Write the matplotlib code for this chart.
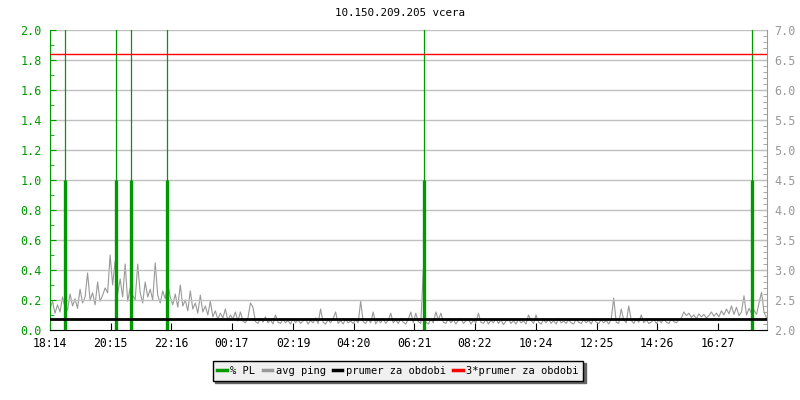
import matplotlib
matplotlib.use("Agg")
import matplotlib.pyplot as plt
from matplotlib.ticker import MultipleLocator
from matplotlib.lines import Line2D
import numpy as np

title = "10.150.209.205 vcera"
tick_labels = ["18:14", "20:15", "22:16", "00:17", "02:19", "04:20",
               "06:21", "08:22", "10:24", "12:25", "14:26", "16:27"]
tick_minutes = [0, 121, 242, 363, 485, 606, 727, 848, 970, 1091, 1212, 1333]
x_end = 1431

# avg ping samples, every 5 minutes from the start (right axis units)
ping = [
    2.35, 2.48, 2.28, 2.42, 2.30, 2.55, 2.38, 2.33, 2.60, 2.40, 2.52, 2.36,
    2.68, 2.45, 2.55, 2.95, 2.50, 2.62, 2.42, 2.80, 2.48, 2.58, 2.70, 2.62,
    3.25, 2.75, 3.15, 2.60, 2.85, 2.55, 3.10, 2.48, 2.70, 2.58, 2.50, 3.10,
    2.62, 2.45, 2.80, 2.55, 2.68, 2.50, 3.12, 2.58, 2.45, 2.65, 2.52, 2.78,
    2.55, 2.42, 2.60, 2.38, 2.75, 2.40, 2.50, 2.32, 2.65, 2.35, 2.45, 2.28,
    2.58, 2.30, 2.40, 2.25, 2.48, 2.22, 2.32, 2.18, 2.28, 2.20, 2.35, 2.16,
    2.25, 2.18, 2.30, 2.15,
    2.30, 2.15, 2.12, 2.20, 2.45, 2.38, 2.14, 2.11, 2.19, 2.13, 2.22, 2.12,
    2.17, 2.10, 2.25, 2.13, 2.11, 2.18, 2.12, 2.16, 2.10, 2.19, 2.12, 2.17,
    2.11, 2.15, 2.18, 2.10, 2.16, 2.12, 2.20, 2.11, 2.35, 2.13, 2.10, 2.17,
    2.12, 2.19, 2.30, 2.11, 2.16, 2.10, 2.18, 2.12, 2.15, 2.11, 2.17, 2.12,
    2.48, 2.14, 2.11, 2.18, 2.12, 2.30, 2.10, 2.17, 2.12, 2.19, 2.11, 2.16,
    2.28, 2.12, 2.17, 2.11, 2.19, 2.13, 2.10, 2.18, 2.30, 2.12, 2.28, 2.14,
    2.11, 3.00, 2.13, 2.10, 2.18, 2.12, 2.30, 2.17, 2.28, 2.13, 2.11, 2.19,
    2.12, 2.17, 2.10, 2.16, 2.19, 2.11, 2.15, 2.18, 2.10, 2.16, 2.12, 2.28,
    2.13, 2.11, 2.18, 2.10, 2.16, 2.12, 2.19, 2.11, 2.17, 2.09, 2.15, 2.18,
    2.11, 2.16, 2.10, 2.18, 2.12, 2.15, 2.10, 2.25, 2.16, 2.11, 2.25, 2.13,
    2.10, 2.17, 2.12, 2.18, 2.11, 2.16, 2.10, 2.19, 2.12, 2.15, 2.11, 2.17,
    2.12, 2.10, 2.18, 2.13, 2.11, 2.17, 2.12, 2.16, 2.10, 2.19, 2.13, 2.11,
    2.17, 2.12, 2.16, 2.10, 2.18, 2.53, 2.13, 2.11, 2.35, 2.17, 2.12, 2.40,
    2.16, 2.11, 2.18, 2.13, 2.25, 2.12, 2.17, 2.11,
    2.13, 2.18, 2.11, 2.17, 2.12, 2.19, 2.13, 2.11, 2.18, 2.14, 2.12, 2.17,
    2.20, 2.30, 2.24, 2.28, 2.21, 2.25, 2.19, 2.27, 2.22, 2.26, 2.20, 2.24,
    2.30, 2.23, 2.28, 2.22, 2.32, 2.25, 2.35, 2.27, 2.40, 2.26, 2.38, 2.24,
    2.30, 2.57, 2.25, 2.36, 2.28, 2.33, 2.26, 2.45, 2.63, 2.30, 2.20, 2.16,
]
ping_step = 5

pl_minutes = [30, 132, 161, 233, 747, 1400]
pl_values = [1.0, 1.0, 1.0, 1.0, 1.0, 1.0]

prumer = 0.073          # left axis units
prumer3 = 1.84

GREEN = "#009900"
GREY = "#999999"
GRID = "#C0C0C0"

plt.rcParams["font.family"] = ["DejaVu Sans Mono"]
fig = plt.figure(figsize=(8, 4), dpi=100)
ax = fig.add_axes([0.0625, 0.175, 0.8963, 0.75])
ax2 = ax.twinx()

ax.set_xlim(0, x_end)
ax.set_ylim(0, 2.0)
ax2.set_ylim(2.0, 7.0)

for v in np.arange(0.2, 2.01, 0.2):
    ax.axhline(v, color=GRID, lw=1.0, zorder=0)

t = np.arange(len(ping)) * ping_step
ax2.plot(t, ping, color=GREY, lw=0.8, zorder=2)

for m, v in zip(pl_minutes, pl_values):
    ax.plot([m, m], [0, 2.0], color=GREEN, lw=0.9, zorder=3)
    ax.plot([m, m], [0, v], color=GREEN, lw=2.4, zorder=3, solid_capstyle="butt")

ax.axhline(prumer, color="black", lw=2.0, zorder=4)
ax.axhline(prumer3, color="red", lw=1.0, zorder=4)

ax.set_zorder(ax2.get_zorder() + 1)
ax.patch.set_visible(False)

ax.yaxis.set_minor_locator(MultipleLocator(0.1))
ax.set_yticks(np.arange(0, 2.01, 0.2))
ax.set_yticklabels([f"{v:.1f}" for v in np.arange(0, 2.01, 0.2)])
ax.tick_params(axis="y", which="both", direction="in", colors=GREEN,
               labelsize=8.5, labelcolor=GREEN, pad=6)
ax.tick_params(axis="y", which="major", length=4)
ax.tick_params(axis="y", which="minor", length=3)
ax.set_xticks(tick_minutes)
ax.set_xticklabels(tick_labels)
ax.tick_params(axis="x", direction="in", length=5, labelsize=8.3, colors="black", pad=5)

ax2.set_yticks(np.arange(2.0, 7.01, 0.5))
ax2.set_yticklabels([f"{v:.1f}" for v in np.arange(2.0, 7.01, 0.5)])
ax2.yaxis.set_minor_locator(MultipleLocator(0.1))
ax2.tick_params(axis="y", which="both", direction="in", colors=GREY,
                labelsize=8.5, labelcolor=GREY, pad=5)
ax2.tick_params(axis="y", which="major", length=5)
ax2.tick_params(axis="y", which="minor", length=3)

for a in (ax, ax2):
    a.spines["top"].set_visible(False)
ax.spines["left"].set_color(GREEN)
ax.spines["right"].set_visible(False)
ax.spines["bottom"].set_color("black")
ax2.spines["left"].set_visible(False)
ax2.spines["bottom"].set_visible(False)
ax2.spines["right"].set_color(GREY)

fig.text(0.5, 0.967, title, ha="center", va="center", fontsize=7.8)

handles = [Line2D([], [], color=GREEN, lw=2.5),
           Line2D([], [], color=GREY, lw=2.5),
           Line2D([], [], color="black", lw=2.5),
           Line2D([], [], color="red", lw=2.5)]
labels = ["% PL", "avg ping", "prumer za obdobi", "3*prumer za obdobi"]
leg = fig.legend(handles, labels, ncol=4, loc="center",
                 bbox_to_anchor=(0.4975, 0.0725), fontsize=7.5,
                 frameon=True, fancybox=False,
                 shadow={"color": "#666666", "alpha": 1, "ox": 1.5, "oy": -1.5},
                 edgecolor="black", facecolor="#F0F0F0", framealpha=1,
                 handlelength=0.9, handletextpad=0.35, columnspacing=0.7,
                 borderpad=0.45)
leg.get_frame().set_linewidth(1.0)

fig.savefig("out.png", dpi=100, facecolor="white")
